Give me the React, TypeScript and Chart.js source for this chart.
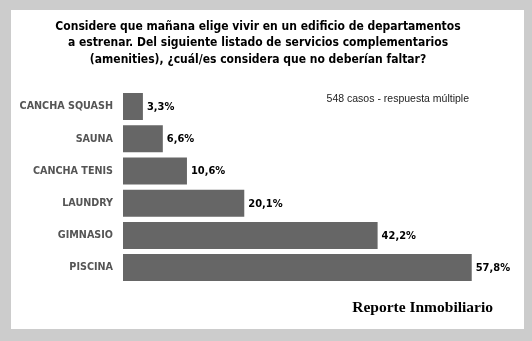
import React, { useEffect, useRef } from "react";
import { Chart, registerables } from "chart.js";

Chart.register(...registerables);

const categories = ["CANCHA SQUASH", "SAUNA", "CANCHA TENIS", "LAUNDRY", "GIMNASIO", "PISCINA"];
const values = [3.3, 6.6, 10.6, 20.1, 42.2, 57.8];
const titleLines = [
  "Considere que mañana elige vivir en un edificio de departamentos",
  "a estrenar. Del siguiente listado de servicios complementarios",
  "(amenities), ¿cuál/es considera que no deberían faltar?",
];
const noteText = "548 casos - respuesta múltiple";
const sourceText = "Reporte Inmobiliario";
const axisMax = 60;

const W = 513;
const H = 319;
const FONT = "'DejaVu Sans Condensed', 'DejaVu Sans', sans-serif";

const fmt = (v: number) => v.toFixed(1).replace(".", ",") + "%";

const textPlugin = {
  id: "texts",
  afterDatasetsDraw(chart: any) {
    const ctx = chart.ctx as CanvasRenderingContext2D;
    ctx.save();
    // title
    ctx.fillStyle = "#000";
    ctx.font = `bold 12px ${FONT}`;
    ctx.textAlign = "center";
    ctx.textBaseline = "middle";
    titleLines.forEach((l, i) => ctx.fillText(l, 247, 16.5 + i * 16.6));
    // value labels
    const meta = chart.getDatasetMeta(0);
    ctx.font = `bold 11px ${FONT}`;
    ctx.textAlign = "left";
    meta.data.forEach((bar: any, i: number) => {
      ctx.fillText(fmt(values[i]), bar.x + 4, bar.y + 0.5);
    });
    // note
    ctx.font = "10.5px 'Liberation Sans', Arial, sans-serif";
    ctx.fillStyle = "#222";
    ctx.textAlign = "right";
    ctx.fillText(noteText, 458, 89);
    // source
    ctx.font = "bold 15.5px 'Liberation Serif', serif";
    ctx.fillStyle = "#000";
    ctx.fillText(sourceText, 482, 298);
    ctx.restore();
  },
};

export default function App() {
  const ref = useRef<HTMLCanvasElement>(null);
  useEffect(() => {
    document.body.style.margin = "0";
    const chart = new Chart(ref.current!, {
      type: "bar",
      data: {
        labels: categories,
        datasets: [
          {
            data: values,
            backgroundColor: "#666666",
            borderWidth: 0,
            barPercentage: 0.84,
            categoryPercentage: 1,
          },
        ],
      },
      options: {
        indexAxis: "y",
        responsive: false,
        animation: false,
        layout: { padding: { top: 80.5, bottom: 45.3, left: 0, right: 39 } },
        plugins: { legend: { display: false }, title: { display: false }, tooltip: { enabled: false } },
        scales: {
          x: { display: false, min: 0, max: axisMax },
          y: {
            grid: { display: false, drawTicks: false },
            border: { display: false },
            ticks: { color: "#555", font: { family: FONT, size: 10.7, weight: "bold" }, padding: 10 },
            afterFit: (s: any) => {
              s.width = 112;
            },
          },
        },
      },
      plugins: [textPlugin],
    } as any);
    return () => chart.destroy();
  }, []);
  return (
    <div style={{ position: "absolute", left: 0, top: 0, width: 532, height: 341, background: "#cccccc" }}>
      <div style={{ position: "absolute", left: 11, top: 10, width: W, height: H, background: "#ffffff" }}>
        <canvas ref={ref} width={W} height={H} style={{ display: "block" }} />
      </div>
    </div>
  );
}
